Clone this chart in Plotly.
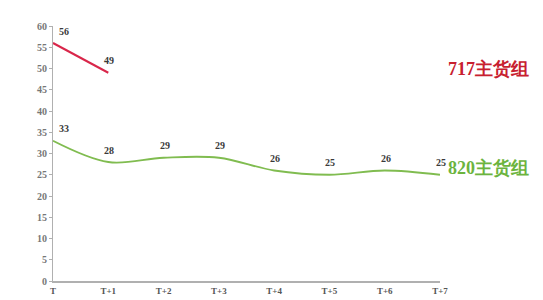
import plotly.graph_objects as go

categories = ["T", "T+1", "T+2", "T+3", "T+4", "T+5", "T+6", "T+7"]
series_717 = [56, 49]
series_820 = [33, 28, 29, 29, 26, 25, 26, 25]
name_717 = "717主货组"
name_820 = "820主货组"
y_ticks = list(range(0, 61, 5))

serif = "Liberation Serif, DejaVu Serif, serif"
label_font = dict(family=serif, size=10, color="#3a3a3a")

fig = go.Figure()
fig.add_trace(go.Scatter(
    x=list(range(len(series_820))), y=series_820, mode="lines",
    line=dict(color="#80bc50", width=1.8, shape="spline", smoothing=1.0),
    showlegend=False, hoverinfo="skip"))
fig.add_trace(go.Scatter(
    x=list(range(len(series_717))), y=series_717, mode="lines",
    line=dict(color="#d9264a", width=2),
    showlegend=False, hoverinfo="skip"))

for series in (series_717, series_820):
    for i, v in enumerate(series):
        fig.add_annotation(
            x=i, y=v, text="<b>%d</b>" % v, showarrow=False,
            xanchor="left" if i == 0 else "center",
            xshift=4 if i == 0 else 1, yshift=12, font=label_font)

fig.add_annotation(xref="paper", yref="y", x=1.015, y=50.0, xanchor="left",
                   text="<b>" + name_717 + "</b>", showarrow=False,
                   font=dict(family=serif, size=18, color="#c8202f"))
fig.add_annotation(xref="paper", yref="y", x=1.015, y=26.6, xanchor="left",
                   text="<b>" + name_820 + "</b>", showarrow=False,
                   font=dict(family=serif, size=18, color="#6cb43e"))

fig.update_layout(
    width=543, height=300, margin=dict(l=45, r=111, t=15, b=19),
    plot_bgcolor="white", paper_bgcolor="white",
    xaxis=dict(range=[0, 7], tickmode="array", tickvals=list(range(len(categories))),
               ticktext=["<b>%s</b>" % c for c in categories], showgrid=False,
               zeroline=False, showline=True, linecolor="#b0b0b0", linewidth=1.5,
               tickfont=dict(family=serif, size=9, color="#555555")),
    yaxis=dict(range=[0, 60], tickmode="array", tickvals=y_ticks,
               ticktext=["<b>%d</b>" % t for t in y_ticks], showgrid=False,
               zeroline=False, showline=True, linecolor="#b0b0b0", linewidth=1,
               ticks="outside", ticklen=3, tickcolor="#b0b0b0",
               tickfont=dict(family=serif, size=10, color="#777777")),
)
fig.write_html("out.html")
